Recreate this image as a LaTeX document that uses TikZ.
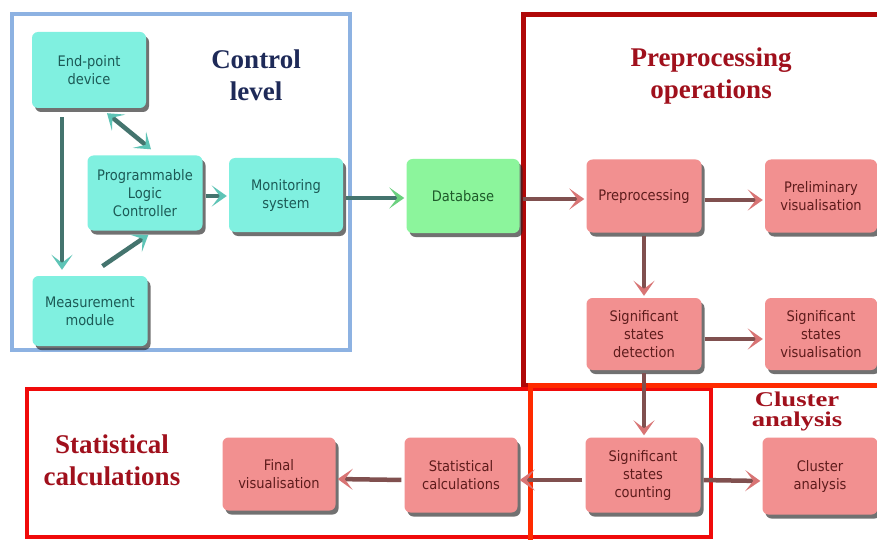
\documentclass[tikz,border=0pt]{standalone}
\usepackage{fontspec}
\setmainfont{Liberation Serif}
\newfontfamily\nodefont[FakeStretch=0.9]{DejaVu Sans}
\newfontfamily\widebf[FakeStretch=1.27]{Liberation Serif}
\usetikzlibrary{shadows,arrows.meta,calc}
\definecolor{cyanfill}{HTML}{80F0E0}
\definecolor{cyantext}{HTML}{1C5A56}
\definecolor{greenfill}{HTML}{8CF59C}
\definecolor{greentext}{HTML}{1E5A2A}
\definecolor{redfill}{HTML}{F29090}
\definecolor{redtext}{HTML}{5E1C1C}
\definecolor{cyanarrow}{HTML}{44746E}
\definecolor{cyanhead}{HTML}{5EC4B6}
\definecolor{greenhead}{HTML}{6AD07E}
\definecolor{redarrow}{HTML}{80504F}
\definecolor{redhead}{HTML}{D87474}
\definecolor{bluef}{HTML}{8DB2E2}
\definecolor{darkredf}{HTML}{B00808}
\definecolor{brightred}{HTML}{F00A0A}
\definecolor{orangered}{HTML}{FF2A00}
\definecolor{navytitle}{HTML}{1E2A58}
\definecolor{maroontitle}{HTML}{A0101C}
\begin{document}
\begin{tikzpicture}[x=1pt,y=-1pt,
  box/.style={rounded corners=6pt, align=center, inner sep=2pt,
    font=\nodefont\fontsize{14.5}{18}\selectfont,
    drop shadow={shadow xshift=3pt, shadow yshift=-4pt, opacity=0.65, fill=black!85}},
  cbox/.style={box, fill=cyanfill, text=cyantext},
  gbox/.style={box, fill=greenfill, text=greentext},
  rbox/.style={box, fill=redfill, text=redtext},
  title/.style={align=center, font=\bfseries\fontsize{27}{32}\selectfont},
  tipc/.tip={Stealth[length=15pt,width=21pt,inset=8pt,color=cyanhead]},
  tipg/.tip={Stealth[length=15pt,width=21pt,inset=8pt,color=greenhead]},
  tipr/.tip={Stealth[length=15pt,width=21pt,inset=8pt,color=redhead]},
  arrc/.style={line width=4.5pt, draw=cyanarrow, shorten <=3pt, shorten >=2pt, -tipc},
  arrg/.style={line width=4.5pt, draw=cyanarrow, shorten <=3pt, shorten >=2pt, -tipg},
  arrr/.style={line width=4.5pt, draw=redarrow, shorten <=3pt, shorten >=2pt, -tipr},
  frame/.style={line width=#1}
]
\useasboundingbox (0,0) rectangle (877,540);
\fill[white] (0,0) rectangle (877,540);

% frames
\draw[frame=4pt, draw=bluef] (12,14) rectangle (350,350);
\draw[frame=5pt, draw=darkredf] (523,15) rectangle (900,385);
\draw[frame=4pt, draw=brightred] (27,389) rectangle (711,537);
\draw[frame=5pt, draw=orangered] (530,385) rectangle (900,560);

% titles
\node[title, text=navytitle] (tctl) at (256,75) {Control\\level};
\node[title, text=maroontitle] (tpre) at (711,76) {Preprocessing\\operations};
\node[title, text=maroontitle] (tstat) at (112,460) {Statistical\\calculations};
\node[align=center, text=maroontitle, font=\widebf\bfseries\fontsize{21}{20}\selectfont] (tclu) at (797,411) {Cluster\\analysis};

% nodes
\node[cbox, minimum width=114pt, minimum height=76pt] (ep) at (89,70) {End-point\\device};
\node[cbox, minimum width=115pt, minimum height=75pt] (plc) at (145,193) {Programmable\\Logic\\Controller};
\node[cbox, minimum width=114pt, minimum height=74pt] (mon) at (286,195) {Monitoring\\system};
\node[cbox, minimum width=115pt, minimum height=70pt] (mm) at (90,311) {Measurement\\module};
\node[gbox, minimum width=113pt, minimum height=74pt] (db) at (463,196) {Database};
\node[rbox, minimum width=115pt, minimum height=73pt] (pre) at (644,196) {Preprocessing};
\node[rbox, minimum width=112pt, minimum height=73pt] (prel) at (821,196) {Preliminary\\visualisation};
\node[rbox, minimum width=115pt, minimum height=72pt] (sdet) at (644,334) {Significant\\states\\detection};
\node[rbox, minimum width=112pt, minimum height=72pt] (svis) at (821,334) {Significant\\states\\visualisation};
\node[rbox, minimum width=115pt, minimum height=75pt] (scnt) at (643,475) {Significant\\states\\counting};
\node[rbox, minimum width=113pt, minimum height=75pt] (stat) at (461,475) {Statistical\\calculations};
\node[rbox, minimum width=113pt, minimum height=73pt] (fin) at (279,474) {Final\\visualisation};
\node[rbox, minimum width=115pt, minimum height=77pt] (clu) at (820,476) {Cluster\\analysis};

% connectors
\draw[line width=4.5pt, draw=cyanarrow, tipc-tipc]
  ($(ep.south)+(18,5)$) -- ($(plc.north)+(6,-6)$);
\draw[arrc] ($(ep.south)+(-27,6)$) -- ($(mm.north)+(-28,-4)$);
\draw[arrc] ($(mm.north)+(10,-8)$) -- ($(plc.south)+(5,3)$);
\draw[arrc] ([yshift=-3pt]plc.east) -- ([yshift=-1pt]mon.west);
\draw[arrg] ([yshift=-3pt]mon.east) -- ([yshift=-2pt]db.west);
\draw[arrr] ([yshift=-3pt]db.east) -- ([yshift=-3pt]pre.west);
\draw[arrr] ([yshift=-4pt]pre.east) -- ([yshift=-4pt]prel.west);
\draw[arrr] (pre.south) -- (sdet.north);
\draw[arrr] ([yshift=-5pt]sdet.east) -- ([yshift=-5pt]svis.west);
\draw[arrr] (sdet.south) -- ([xshift=1pt]scnt.north);
\draw[arrr] ([yshift=-5pt]scnt.west) -- ([yshift=-5pt]stat.east);
\draw[arrr] ([yshift=-5pt]stat.west) -- ([yshift=-5pt]fin.east);
\draw[arrr] ([yshift=-5pt]scnt.east) -- ([yshift=-5pt]clu.west);
\end{tikzpicture}
\end{document}
